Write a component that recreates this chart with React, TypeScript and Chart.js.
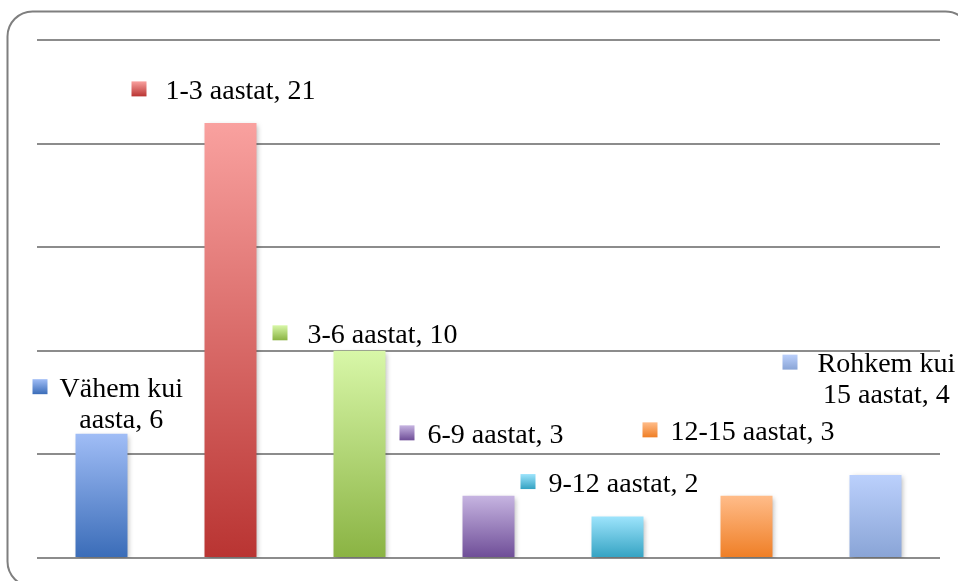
import React, { useEffect, useRef } from "react";
import { Chart, registerables } from "chart.js";

Chart.register(...registerables);

const categories = [
  "Vähem kui aasta",
  "1-3 aastat",
  "3-6 aastat",
  "6-9 aastat",
  "9-12 aastat",
  "12-15 aastat",
  "Rohkem kui 15 aastat",
];
const values = [6, 21, 10, 3, 2, 3, 4];
const yTicks = [0, 5, 10, 15, 20, 25];

const topColors = ["#A0BDF6", "#F9A19F", "#D8F7A8", "#C6B4E1", "#9DE4FC", "#FFBC89", "#BBD0FC"];
const bottomColors = ["#3A6CB8", "#B93432", "#8AB343", "#6E4D97", "#33A2C2", "#EF7E25", "#89A4D6"];

// label placement relative to bar top-centre (text block left, first baseline, square gap)
const labelOffsets = [
  { dx: -42, dy: -37, gap: 12 },
  { dx: -65, dy: -24, gap: 19 },
  { dx: -52, dy: -8, gap: 20 },
  { dx: -61, dy: -53, gap: 13 },
  { dx: -69, dy: -25, gap: 13 },
  { dx: -76, dy: -56, gap: 13 },
  { dx: -58, dy: -103, gap: 20 },
];

function labelLines(cat: string, v: number): string[] {
  const idx = cat.indexOf(" kui ");
  if (idx >= 0) {
    return [cat.slice(0, idx + 4), cat.slice(idx + 5) + ", " + v];
  }
  return [cat + ", " + v];
}

const FONT = '28px "Liberation Serif", serif';
const LINE_H = 31;
const SQ = 15;

export default function App() {
  const ref = useRef<HTMLCanvasElement | null>(null);

  useEffect(() => {
    const canvas = ref.current;
    if (!canvas) return;

    const decor = {
      id: "decor",
      beforeDraw(chart: any) {
        const ctx = chart.ctx;
        ctx.save();
        ctx.fillStyle = "#ffffff";
        ctx.fillRect(0, 0, chart.width, chart.height);
        ctx.beginPath();
        ctx.roundRect(7.5, 11.5, 963, 575, 25);
        ctx.strokeStyle = "#7f7f7f";
        ctx.lineWidth = 2;
        ctx.stroke();
        ctx.restore();
      },
      beforeDatasetsDraw(chart: any) {
        const ctx = chart.ctx;
        ctx.save();
        ctx.shadowColor = "rgba(0,0,0,0.28)";
        ctx.shadowBlur = 5;
        ctx.shadowOffsetX = 2;
        ctx.shadowOffsetY = 2;
      },
      afterDatasetsDraw(chart: any) {
        const ctx = chart.ctx;
        ctx.restore();
        const meta = chart.getDatasetMeta(0);
        ctx.save();
        ctx.font = FONT;
        ctx.fillStyle = "#000000";
        ctx.textBaseline = "alphabetic";
        meta.data.forEach((bar: any, i: number) => {
          const off = labelOffsets[i];
          const lines = labelLines(categories[i], values[i]);
          const left = bar.x + off.dx;
          const base = bar.y + off.dy;
          const widths = lines.map((l) => ctx.measureText(l).width);
          const blockW = Math.max(...widths);
          lines.forEach((l, k) => {
            ctx.textAlign = "left";
            ctx.fillText(l, left + (blockW - widths[k]) / 2, base + k * LINE_H);
          });
          const sx = left - off.gap - SQ;
          const sy = base - 2.5 - SQ;
          const g = ctx.createLinearGradient(0, sy, 0, sy + SQ);
          g.addColorStop(0, topColors[i]);
          g.addColorStop(1, bottomColors[i]);
          ctx.fillStyle = g;
          ctx.fillRect(sx, sy, SQ, SQ);
          ctx.fillStyle = "#000000";
        });
        ctx.restore();
      },
    };

    const chart = new Chart(canvas, {
      type: "bar",
      data: {
        labels: categories,
        datasets: [
          {
            data: values,
            borderWidth: 0,
            categoryPercentage: 1,
            barPercentage: 0.403,
            backgroundColor: (c: any) => {
              const ch = c.chart;
              const ys = ch.scales && ch.scales.y;
              const i = c.dataIndex;
              if (!ch.chartArea || !ys || i === undefined) return topColors[i || 0];
              const yTop = ys.getPixelForValue(values[i]);
              const yBot = ys.getPixelForValue(0);
              if (!isFinite(yTop) || !isFinite(yBot)) return topColors[i];
              const g = ch.ctx.createLinearGradient(0, yTop, 0, yBot);
              g.addColorStop(0, topColors[i]);
              g.addColorStop(1, bottomColors[i]);
              return g;
            },
          },
        ],
      },
      options: {
        responsive: false,
        animation: false,
        devicePixelRatio: 1,
        layout: { padding: { left: 37, right: 18, top: 40, bottom: 23 } },
        plugins: {
          legend: { display: false },
          tooltip: { enabled: false },
          title: { display: false },
        },
        scales: {
          x: { display: false },
          y: {
            min: 0,
            max: 25,
            afterBuildTicks: (axis: any) => {
              axis.ticks = yTicks.map((v) => ({ value: v }));
            },
            ticks: { display: false },
            border: { display: false },
            grid: { color: "#8c8c8c", lineWidth: 2, drawTicks: false },
          },
        },
      },
      plugins: [decor],
    });

    return () => chart.destroy();
  }, []);

  return (
    <div style={{ position: "absolute", left: 0, top: 0, width: 958, height: 581 }}>
      <canvas ref={ref} width={958} height={581} style={{ display: "block" }} />
    </div>
  );
}
